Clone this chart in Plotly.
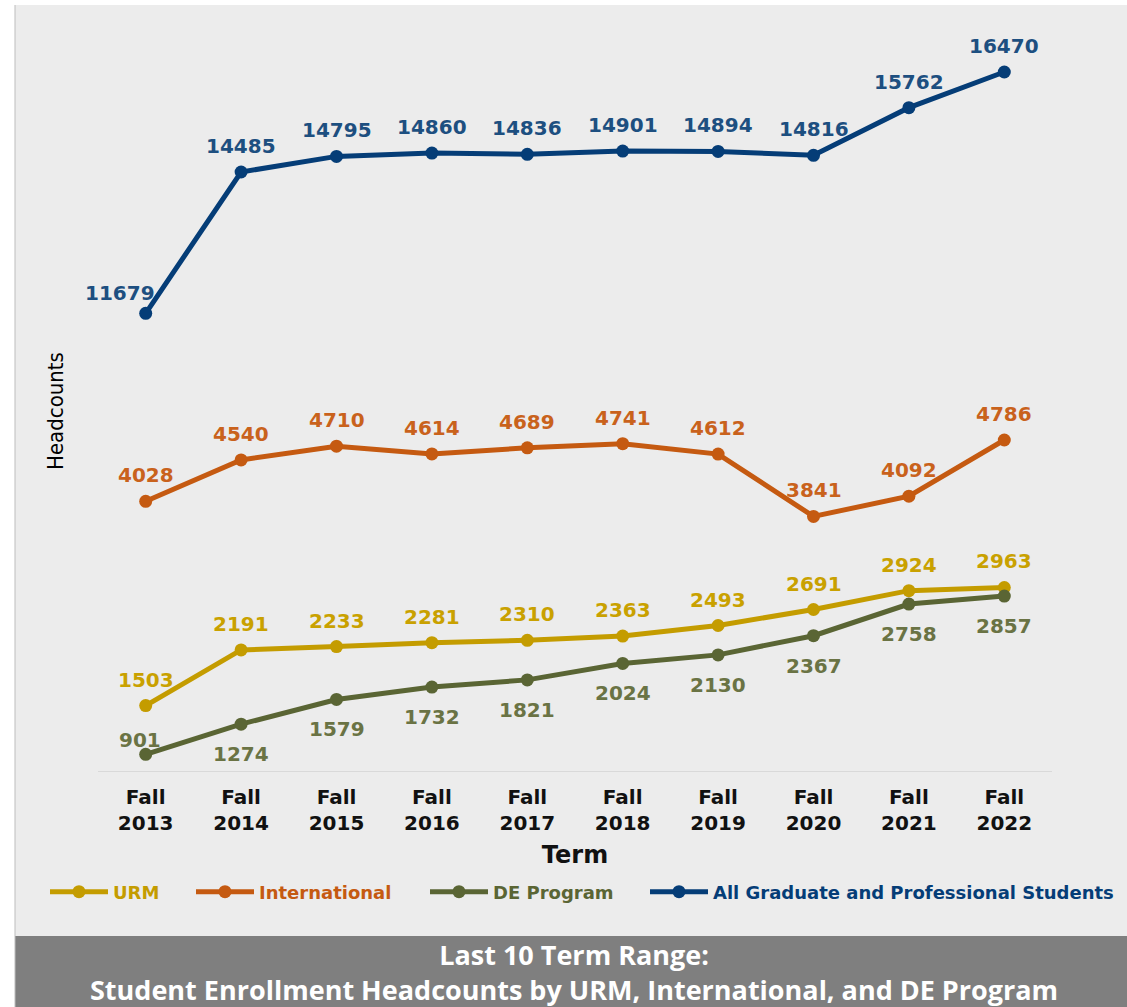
import plotly.graph_objects as go

# ---- data ----
terms = ["Fall 2013", "Fall 2014", "Fall 2015", "Fall 2016", "Fall 2017",
         "Fall 2018", "Fall 2019", "Fall 2020", "Fall 2021", "Fall 2022"]
tick_labels = ["Fall<br>2013", "Fall<br>2014", "Fall<br>2015", "Fall<br>2016", "Fall<br>2017",
               "Fall<br>2018", "Fall<br>2019", "Fall<br>2020", "Fall<br>2021", "Fall<br>2022"]
urm = [1503, 2191, 2233, 2281, 2310, 2363, 2493, 2691, 2924, 2963]
international = [4028, 4540, 4710, 4614, 4689, 4741, 4612, 3841, 4092, 4786]
de_program = [901, 1274, 1579, 1732, 1821, 2024, 2130, 2367, 2758, 2857]
all_grad = [11679, 14485, 14795, 14860, 14836, 14901, 14894, 14816, 15762, 16470]

# ---- layout geometry ----
W, H = 1127, 1007
ML, MR, MT, MB = 98, 75, 20, 236
PW = W - ML - MR
PH = H - MT - MB
AX_Y = H - MB  # pixel row of x axis


def xp(px):
    return (px - ML) / PW


def yp(py):
    return (AX_Y - py) / PH


# axis scale (pixels per unit and pixel row of zero) for each y axis
s1, z1 = 0.0809, 827.2
s2, z2 = 0.05037, 901.6
y1_range = [(z1 - AX_Y) / s1, (z1 - MT) / s1]
y2_range = [(z2 - AX_Y) / s2, (z2 - MT) / s2]

C_URM, C_URM_T = "#c49c00", "#c9a100"
C_INT, C_INT_T = "#c55a11", "#c9621c"
C_DE, C_DE_T = "#5a6534", "#6a7344"
C_ALL, C_ALL_T = "#053d77", "#1d4f80"

LBL = dict(family="DejaVu Sans", size=20, weight="bold")

series = [
    ("URM", urm, C_URM, C_URM_T, "y", "legend"),
    ("International", international, C_INT, C_INT_T, "y", "legend2"),
    ("DE Program", de_program, C_DE, C_DE_T, "y", "legend3"),
    ("All Graduate and Professional Students", all_grad, C_ALL, C_ALL_T, "y2", "legend4"),
]
legend_left_px = [45, 191, 425, 645]

fig = go.Figure()
annotations = []
for name, vals, c, ct, ax, lg in series:
    fig.add_trace(go.Scatter(
        x=terms, y=vals, name=f'<span style="color:{c}">{name}</span>',
        mode="lines+markers", yaxis=ax, legend=lg,
        line=dict(color=c, width=5), marker=dict(color=c, size=13),
        cliponaxis=False, hoverinfo="x+y",
    ))
    for i, (t, v) in enumerate(zip(terms, vals)):
        xs, ys = 0, 26
        if name == "DE Program":
            ys = -30
            if i == 0:
                xs, ys = -6, 14
        if name.startswith("All") and i == 0:
            xs, ys = -26, 20
        annotations.append(dict(
            x=t, y=v, xref="x", yref=ax, text=str(v), showarrow=False,
            xanchor="center", yanchor="middle", xshift=xs, yshift=ys,
            font=dict(LBL, color=ct)))

shapes = [
    dict(type="rect", xref="paper", yref="paper", x0=xp(15), x1=xp(W), y0=yp(5), y1=yp(936),
         fillcolor="#ececec", line=dict(width=0), layer="below"),
    dict(type="rect", xref="paper", yref="paper", x0=xp(15), x1=xp(W), y0=yp(936), y1=yp(H),
         fillcolor="#7f7f7f", line=dict(width=0), layer="below"),
    dict(type="line", xref="paper", yref="paper", x0=xp(15), x1=xp(15), y0=yp(5), y1=yp(H),
         line=dict(color="#bdbdbd", width=1), layer="below"),
]

ttl = dict(family="Open Sans", size=27, color="white", weight="bold")
annotations += [
    dict(text="Headcounts", xref="paper", yref="paper", x=xp(55), y=yp(411), textangle=-90,
         showarrow=False, xanchor="center", yanchor="middle",
         font=dict(family="DejaVu Sans Condensed", size=22, color="black")),
    dict(text="Last 10 Term Range:<br>Student Enrollment Headcounts by URM, International, and DE Program",
         xref="paper", yref="paper", x=xp(574), y=yp(972), borderpad=0,
         showarrow=False, xanchor="center", yanchor="middle", align="center", font=ttl),
]

legend_style = dict(orientation="h", y=yp(892), xanchor="left", yanchor="middle",
                    font=dict(family="DejaVu Sans", size=18, weight="bold"),
                    bgcolor="rgba(0,0,0,0)", itemwidth=58)

fig.update_layout(
    width=W, height=H, margin=dict(l=ML, r=MR, t=MT, b=MB, autoexpand=False),
    paper_bgcolor="white", plot_bgcolor="#ececec",
    shapes=shapes, annotations=annotations,
    showlegend=True,
    legend=dict(legend_style, x=xp(legend_left_px[0])),
    legend2=dict(legend_style, x=xp(legend_left_px[1])),
    legend3=dict(legend_style, x=xp(legend_left_px[2])),
    legend4=dict(legend_style, x=xp(legend_left_px[3])),
    xaxis=dict(type="category", categoryorder="array", categoryarray=terms,
               tickvals=terms, ticktext=tick_labels, range=[-0.5, 9.5],
               showgrid=False, zeroline=False, showline=True, linecolor="#d9d9d9", linewidth=1,
               ticks="", ticklabelstandoff=8,
               tickfont=dict(family="DejaVu Sans", size=20, color="#111111", weight="bold"),
               title=dict(text="Term", standoff=12,
                          font=dict(family="DejaVu Sans", size=24, color="#111111", weight="bold"))),
    yaxis=dict(range=y1_range, showgrid=False, zeroline=False, showticklabels=False,
               showline=False, ticks=""),
    yaxis2=dict(range=y2_range, overlaying="y", side="right", showgrid=False, zeroline=False,
                showticklabels=False, showline=False, ticks=""),
)

fig.write_html("out.html", config={"displayModeBar": False},
               post_script="document.body.style.margin='0px';document.body.style.overflow='hidden';")
